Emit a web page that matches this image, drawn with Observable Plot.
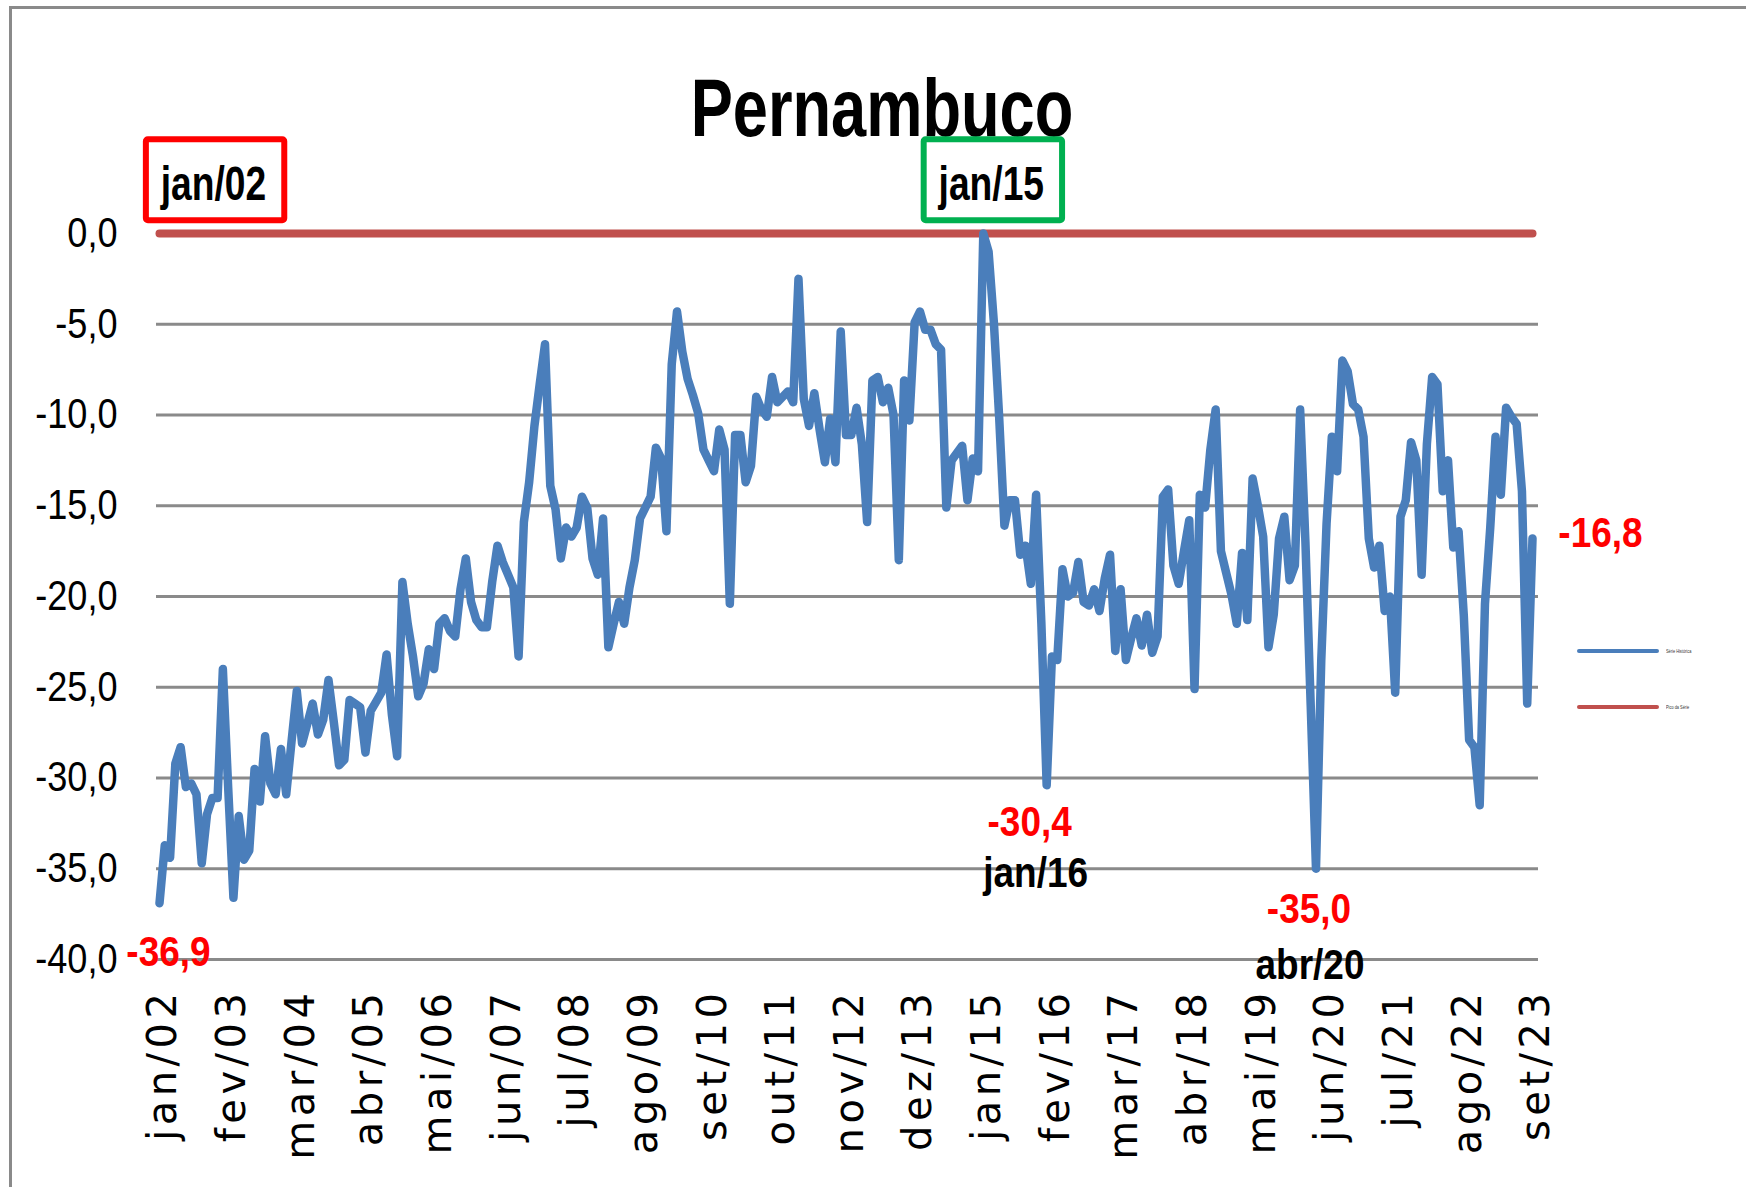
<!DOCTYPE html>
<html>
<head>
<meta charset="utf-8">
<script src="https://cdn.jsdelivr.net/npm/d3@7"></script>
<script src="https://cdn.jsdelivr.net/npm/@observablehq/plot@0.6"></script>
<style>
  html, body { margin: 0; padding: 0; background: #ffffff; }
  #wrap { position: relative; width: 1746px; height: 1187px; overflow: hidden; background: #fff; }
  #frame { position: absolute; left: 9px; top: 6px; width: 1800px; height: 1300px; border: 3px solid #8a8a8a; box-sizing: border-box; pointer-events: none; }
  #chart { position: absolute; left: 0; top: 0; }
  .leg { position: absolute; height: 4px; border-radius: 2px; }
  .legtxt { position: absolute; font-family: "Liberation Sans", Arial, sans-serif; font-size: 6px; color: #333; transform: scaleX(0.65); transform-origin: left center; white-space: nowrap; line-height: 6px; }
</style>
</head>
<body>
<div id="wrap">
  <div id="frame"></div>
  <div id="chart"></div>
</div>
<script>
// ---------------- DATA ----------------
const title = "Pernambuco";
const seriesNames = ["Série Histórica", "Pico da Série"];
const monthNames = ["jan","fev","mar","abr","mai","jun","jul","ago","set","out","nov","dez"];
const startYear = 2002;

// monthly values (jan/02 .. set/23)
const v2002 = [-36.9,-33.7,-34.4,-29.2,-28.3,-30.5,-30.3,-30.9,-34.7,-32.0,-31.1,-31.1];
const v2003 = [-24.0,-30.5,-36.6,-32.1,-34.5,-34.0,-29.5,-31.3,-27.7,-30.3,-30.9,-28.4];
const v2004 = [-30.9,-28.0,-25.2,-28.1,-27.0,-25.9,-27.6,-26.8,-24.6,-26.9,-29.3,-29.0];
const v2005 = [-25.7,-25.9,-26.1,-28.6,-26.3,-25.8,-25.3,-23.2,-26.5,-28.8,-19.2,-21.5];
const v2006 = [-23.3,-25.5,-24.8,-22.9,-24.0,-21.5,-21.2,-21.9,-22.2,-19.6,-17.9,-20.3];
const v2007 = [-21.3,-21.7,-21.7,-19.2,-17.2,-18.1,-18.8,-19.5,-23.3,-15.9,-13.7,-10.6];
const v2008 = [-8.3,-6.1,-13.9,-15.2,-17.9,-16.2,-16.7,-16.2,-14.5,-15.1,-17.9,-18.8];
const v2009 = [-15.7,-22.8,-21.5,-20.3,-21.5,-19.5,-18.0,-15.7,-15.1,-14.5,-11.8,-12.4];
const v2010 = [-16.4,-7.2,-4.3,-6.5,-8.0,-8.9,-9.9,-11.9,-12.5,-13.1,-10.8,-11.9];
const v2011 = [-20.4,-11.1,-11.1,-13.7,-12.8,-9.0,-9.7,-10.1,-7.9,-9.3,-9.0,-8.7];
const v2012 = [-9.3,-2.5,-9.1,-10.6,-8.8,-10.8,-12.6,-10.2,-12.6,-5.4,-11.1,-11.1];
const v2013 = [-9.6,-11.6,-15.9,-8.1,-7.9,-9.3,-8.5,-10.0,-18.0,-8.1,-10.3,-4.9];
const v2014 = [-4.3,-5.3,-5.3,-6.1,-6.4,-15.1,-12.5,-12.1,-11.7,-14.7,-12.4,-13.1];
const v2015 = [0.0,-1.0,-4.9,-10.1,-16.1,-14.7,-14.7,-17.7,-17.2,-19.3,-14.4,-21.5];
const v2016 = [-30.4,-23.3,-23.5,-18.5,-20.0,-19.8,-18.1,-20.3,-20.5,-19.6,-20.8,-19.0];
const v2017 = [-17.7,-23.0,-19.6,-23.5,-22.3,-21.2,-22.7,-21.0,-23.1,-22.2,-14.5,-14.1];
const v2018 = [-18.3,-19.3,-17.5,-15.8,-25.1,-14.4,-15.1,-11.9,-9.7,-17.5,-18.7,-19.9];
const v2019 = [-21.5,-17.6,-21.3,-13.5,-15.0,-16.7,-22.8,-21.0,-16.8,-15.6,-19.1,-18.3];
const v2020 = [-9.7,-17.0,-26.0,-35.0,-23.5,-16.0,-11.2,-13.1,-7.0,-7.6,-9.4,-9.7];
const v2021 = [-11.2,-16.8,-18.4,-17.2,-20.8,-20.0,-25.3,-15.6,-14.7,-11.5,-12.5,-18.8];
const v2022 = [-11.6,-7.9,-8.3,-14.2,-12.5,-17.3,-16.4,-21.1,-27.9,-28.3,-31.5,-20.4];
const v2023 = [-16.2,-11.2,-14.4,-9.6,-10.1,-10.5,-14.2,-25.9,-16.8];

const tickLabels = ["jan/02","fev/03","mar/04","abr/05","mai/06","jun/07","jul/08","ago/09","set/10","out/11","nov/12","dez/13","jan/15","fev/16","mar/17","abr/18","mai/19","jun/20","jul/21","ago/22","set/23"];
const yTicks = [0,-5,-10,-15,-20,-25,-30,-35,-40];
const gridValues = [-5,-10,-15,-20,-25,-30,-35,-40];

// highlighted months
const startMonth = "jan/02";   // red box + first value
const peakMonth = "jan/15";    // green box
const troughMonths = ["jan/16", "abr/20"];
const lastMonth = "set/23";

// ---------------- BUILD ----------------
const values = [].concat(v2002,v2003,v2004,v2005,v2006,v2007,v2008,v2009,v2010,v2011,v2012,v2013,v2014,v2015,v2016,v2017,v2018,v2019,v2020,v2021,v2022,v2023);
const data = values.map((v, i) => ({i, v}));
const peak = d3.max(values);
function monthIndex(label) {
  const [m, y] = label.split("/");
  return (2000 + (+y) - startYear) * 12 + monthNames.indexOf(m);
}
const fmt = v => v.toFixed(1).replace(".", ",");
const pt = label => { const i = monthIndex(label); return {i, v: values[i], label}; };

const condensed = "'Liberation Sans', Arial, sans-serif";
const wide = "'DejaVu Sans', Verdana, sans-serif";

// distinct font sizes are used to find each text group after rendering
const FS_Y = 42, FS_TITLE = 81, FS_CALL = 43, FS_BOX = 49, FS_X = 40;

const boldRed = {fill: "#ff0000", fontWeight: "bold", fontSize: FS_CALL, fontFamily: condensed, lineAnchor: "middle"};
const boldBlack = {fill: "#000000", fontWeight: "bold", fontSize: FS_CALL, fontFamily: condensed, lineAnchor: "middle"};

const chart = Plot.plot({
  width: 1746,
  height: 1187,
  marginLeft: 159,
  marginRight: 214,
  marginTop: 233,
  marginBottom: 228,
  style: {background: "transparent", overflow: "visible"},
  x: {type: "linear", domain: [0, values.length - 1], axis: null},
  y: {domain: [-40, 0], axis: null},
  marks: [
    Plot.ruleY(gridValues, {stroke: "#8a8a8a", strokeWidth: 3, insetLeft: -3, insetRight: -6}),
    Plot.line(data, {x: "i", y: () => peak, stroke: "#c0504d", strokeWidth: 8, strokeLinecap: "round"}),
    Plot.line(data, {x: "i", y: "v", stroke: "#4a7ebb", strokeWidth: 8.5, strokeLinejoin: "round", strokeLinecap: "round"}),
    Plot.axisY(yTicks, {anchor: "left", label: null, tickSize: 0, tickPadding: 42, fontSize: FS_Y, fontFamily: condensed, tickFormat: fmt, fill: "#000"}),
    Plot.text(tickLabels, {x: d => monthIndex(d), frameAnchor: "bottom", rotate: -90, textAnchor: "end", lineAnchor: "middle",
      dx: 4, dy: 29, fontSize: FS_X, fontFamily: wide, fill: "#000"}),
    // title
    Plot.text([title], {frameAnchor: "top", dx: 36, dy: -123, fontSize: FS_TITLE, fontWeight: "bold", fontFamily: condensed,
      lineAnchor: "middle", fill: "#000"}),
    // value callouts
    Plot.text([pt(startMonth)], {x: "i", y: "v", text: d => fmt(d.v), dx: 9, dy: 49, ...boldRed}),
    Plot.text([pt(troughMonths[0])], {x: "i", y: "v", text: d => fmt(d.v), dx: -17, dy: 37, ...boldRed}),
    Plot.text([pt(troughMonths[0])], {x: "i", y: "v", text: "label", dx: -11, dy: 88, ...boldBlack}),
    Plot.text([pt(troughMonths[1])], {x: "i", y: "v", text: d => fmt(d.v), dx: -7, dy: 40, ...boldRed}),
    Plot.text([pt(troughMonths[1])], {x: "i", y: "v", text: "label", dx: -6, dy: 96, ...boldBlack}),
    Plot.text([pt(lastMonth)], {x: "i", y: "v", text: d => fmt(d.v), dx: 68, dy: -5, ...boldRed}),
    // boxed period labels
    Plot.text([pt(startMonth)], {x: "i", y: () => peak, text: "label", dx: 54, dy: -49, fontSize: FS_BOX, fontWeight: "bold",
      fontFamily: condensed, lineAnchor: "middle", fill: "#000"}),
    Plot.text([pt(peakMonth)], {x: "i", y: () => peak, text: "label", dx: 8, dy: -49, fontSize: FS_BOX, fontWeight: "bold",
      fontFamily: condensed, lineAnchor: "middle", fill: "#000"})
  ]
});

document.getElementById("chart").append(chart);

// find the texts of a group by its (distinct) font size
function textsWithSize(fs) {
  return Array.from(chart.querySelectorAll("text")).filter(t => {
    let el = t;
    while (el && el !== chart) {
      const a = el.getAttribute && el.getAttribute("font-size");
      if (a != null) return parseFloat(a) === fs;
      el = el.parentNode;
    }
    return false;
  });
}
// condense text horizontally (narrow typeface look)
function condense(texts, s) {
  texts.forEach(node => {
    const t = d3.select(node);
    let tr = t.attr("transform");
    if (!tr) {
      const x = +t.attr("x") || 0, y = +t.attr("y") || 0;
      t.attr("x", null).attr("y", null);
      tr = `translate(${x},${y})`;
    }
    t.attr("transform", tr + ` scale(${s},1)`);
  });
}
condense(textsWithSize(FS_Y), 0.86);
condense(textsWithSize(FS_TITLE), 0.78);
condense(textsWithSize(FS_CALL), 0.86);
const boxTexts = textsWithSize(FS_BOX);
condense(boxTexts, 0.76);
// spaced-out rotated month labels
textsWithSize(FS_X).forEach(n => n.setAttribute("letter-spacing", "4.5"));

// frames around the boxed labels
const boxColor = {[startMonth]: "#ff0000", [peakMonth]: "#00b050"};
const svgRect = chart.getBoundingClientRect();
boxTexts.forEach(node => {
  const r = node.getBoundingClientRect();
  const left = r.left - svgRect.left, cy = r.top - svgRect.top + r.height / 2;
  const g = node.closest("g");
  d3.select(chart).insert("rect", () => g)
    .attr("x", left - 14).attr("y", cy - 44)
    .attr("width", r.width + 32).attr("height", 81)
    .attr("rx", 2)
    .attr("fill", "none")
    .attr("stroke", boxColor[node.textContent] || "#000")
    .attr("stroke-width", 6);
});

// legend (outside plot frame, right side)
const wrap = document.getElementById("wrap");
const legendItems = [
  {name: seriesNames[0], color: "#4a7ebb", top: 649},
  {name: seriesNames[1], color: "#c0504d", top: 705}
];
legendItems.forEach(d => {
  const bar = document.createElement("div");
  bar.className = "leg";
  bar.style.left = "1577px"; bar.style.width = "82px"; bar.style.top = d.top + "px"; bar.style.background = d.color;
  wrap.append(bar);
  const t = document.createElement("div");
  t.className = "legtxt";
  t.style.left = "1666px"; t.style.top = (d.top - 1) + "px";
  t.textContent = d.name;
  wrap.append(t);
});
</script>
</body>
</html>
